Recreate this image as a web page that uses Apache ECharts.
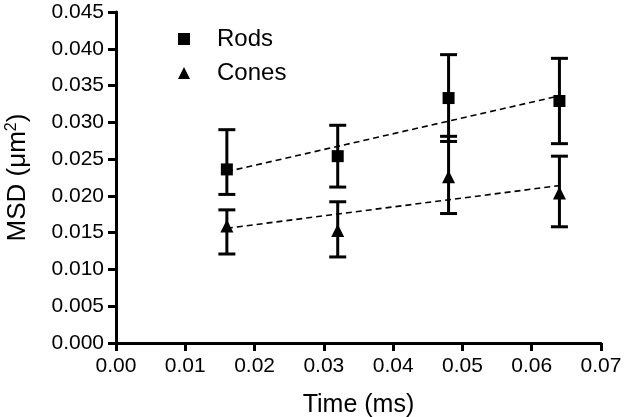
<!DOCTYPE html>
<html>
<head>
<meta charset="utf-8">
<script src="https://cdn.jsdelivr.net/npm/echarts@6/dist/echarts.min.js"></script>
<style>html,body{margin:0;padding:0;background:#fff}#c{width:640px;height:417px}</style>
</head>
<body>
<div id="c"></div>
<script>
const times = [0.016, 0.032, 0.048, 0.064];
const rodsMean = [0.0236, 0.0254, 0.0333, 0.0329];
const rodsLow = [0.0202, 0.0212, 0.0274, 0.0271];
const rodsHigh = [0.0290, 0.0296, 0.0392, 0.0387];
const conesMean = [0.0159, 0.0153, 0.0226, 0.0204];
const conesLow = [0.0121, 0.0117, 0.0176, 0.0158];
const conesHigh = [0.0181, 0.0192, 0.0281, 0.0254];
const fitX = [0.016, 0.064];
const rodsFit = [0.0233, 0.0336];
const conesFit = [0.0156, 0.0214];

const FONT = 'Liberation Sans, Arial, sans-serif';

function errData(low, high) {
  return times.map((t, i) => [t, low[i], high[i]]);
}
function errRender(params, api) {
  const x = api.value(0);
  const lo = api.coord([x, api.value(1)]);
  const hi = api.coord([x, api.value(2)]);
  const hw = 8.5;
  const style = { stroke: '#000', lineWidth: 3, fill: null };
  return {
    type: 'group',
    children: [
      { type: 'line', shape: { x1: lo[0], y1: lo[1], x2: hi[0], y2: hi[1] }, style },
      { type: 'line', shape: { x1: lo[0] - hw, y1: lo[1], x2: lo[0] + hw, y2: lo[1] }, style },
      { type: 'line', shape: { x1: hi[0] - hw, y1: hi[1], x2: hi[0] + hw, y2: hi[1] }, style }
    ]
  };
}

const chart = echarts.init(document.getElementById('c'), null, { renderer: 'canvas' });
chart.setOption({
  animation: false,
  backgroundColor: '#fff',
  grid: { left: 116, right: 39, top: 12, bottom: 74, containLabel: false, outerBoundsMode: 'none' },
  legend: {
    orient: 'vertical',
    left: 178,
    top: 27,
    padding: 0,
    itemGap: 10,
    itemWidth: 12,
    itemHeight: 12,
    textStyle: { fontFamily: FONT, fontSize: 24, color: '#000', padding: [0, 0, 0, 22] },
    data: [
      { name: 'Rods', icon: 'rect' },
      { name: 'Cones', icon: 'triangle' }
    ]
  },
  xAxis: {
    type: 'value',
    min: 0, max: 0.07, interval: 0.01,
    name: 'Time (ms)',
    nameLocation: 'middle',
    nameGap: 50,
    nameTextStyle: { fontFamily: FONT, fontSize: 25, color: '#000' },
    axisLine: { lineStyle: { color: '#000', width: 3 } },
    axisTick: { length: 8, lineStyle: { color: '#000', width: 3 } },
    axisLabel: { fontFamily: FONT, fontSize: 21, color: '#000', margin: 13, formatter: v => v.toFixed(2) },
    splitLine: { show: false }
  },
  yAxis: {
    type: 'value',
    min: 0, max: 0.045, interval: 0.005,
    name: '{a|MSD (μm}{s|2}{a|)}',
    nameLocation: 'middle',
    nameRotate: 90,
    nameGap: 84,
    nameTextStyle: {
      fontFamily: FONT, fontSize: 26, color: '#000',
      rich: {
        a: { fontFamily: FONT, fontSize: 26, color: '#000' },
        s: { fontFamily: FONT, fontSize: 16, color: '#000', padding: [0, 0, 12, 0] }
      }
    },
    axisLine: { show: true, lineStyle: { color: '#000', width: 3 } },
    axisTick: { show: true, length: 8, lineStyle: { color: '#000', width: 3 } },
    axisLabel: { fontFamily: FONT, fontSize: 21, color: '#000', margin: 12, formatter: v => v.toFixed(3) },
    splitLine: { show: false }
  },
  series: [
    {
      type: 'line', data: fitX.map((x, i) => [x, rodsFit[i]]), symbol: 'none', silent: true,
      lineStyle: { color: '#000', width: 1.6, type: [6, 4] }, z: 1
    },
    {
      type: 'line', data: fitX.map((x, i) => [x, conesFit[i]]), symbol: 'none', silent: true,
      lineStyle: { color: '#000', width: 1.6, type: [6, 4] }, z: 1
    },
    { type: 'custom', renderItem: errRender, data: errData(rodsLow, rodsHigh), z: 2 },
    { type: 'custom', renderItem: errRender, data: errData(conesLow, conesHigh), z: 2 },
    {
      name: 'Rods', type: 'scatter', symbol: 'rect', symbolSize: 12,
      itemStyle: { color: '#000', opacity: 1 }, data: times.map((t, i) => [t, rodsMean[i]]), z: 3
    },
    {
      name: 'Cones', type: 'scatter', symbol: 'triangle', symbolSize: 13,
      itemStyle: { color: '#000', opacity: 1 }, data: times.map((t, i) => [t, conesMean[i]]), z: 3
    }
  ]
});
</script>
</body>
</html>
